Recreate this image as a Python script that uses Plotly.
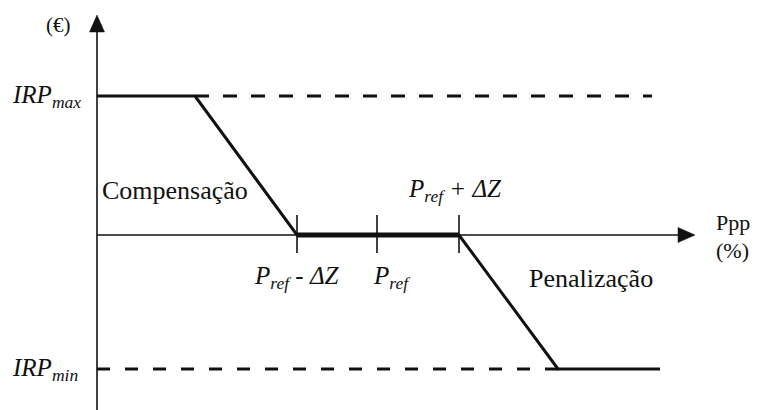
import plotly.graph_objects as go

# ---- data (conceptual units on the chart's own axes) ----
knee_comp = 98          # end of IRPmax plateau
p_ref_minus = 200       # Pref - ΔZ
p_ref = 280             # Pref
p_ref_plus = 362        # Pref + ΔZ
knee_pen = 461          # start of IRPmin plateau
x_end = 563             # end of IRPmin plateau
x_dash_end = 555        # end of dashed IRPmax reference
irp_max = 139
irp_min = -134

curve_x = [0, knee_comp, p_ref_minus, p_ref_plus, knee_pen, x_end]
curve_y = [irp_max, irp_max, 0, 0, irp_min, irp_min]
tick_x = [p_ref_minus, p_ref, p_ref_plus]
tick_labels = ["<i>P</i><sub><i>ref</i></sub><i> - ΔZ</i>", "<i>P</i><sub><i>ref</i></sub>"]

# ---- styling / layout helpers ----
# page body has an 8px margin, so the figure is 752x402 and ranges account for it
X_MIN, X_MAX = -89, 663
Y_MIN, Y_MAX = -175, 227
X_AXIS_TIP = 598
Y_AXIS_TIP = 220
HEAD_LEN = 17
HEAD_HALF = 7.5
TICK_UP, TICK_DN = 20, -18
SERIF = "Liberation Serif, Times New Roman, serif"
INK = "#111111"

fig = go.Figure()

# axes lines
fig.add_trace(go.Scatter(x=[0, 0], y=[Y_MIN, Y_AXIS_TIP - HEAD_LEN + 2], mode="lines",
                         line=dict(color=INK, width=1.6), hoverinfo="skip"))
fig.add_trace(go.Scatter(x=[0, X_AXIS_TIP - HEAD_LEN + 2], y=[0, 0], mode="lines",
                         line=dict(color=INK, width=1.6), hoverinfo="skip"))
# arrowheads
fig.add_trace(go.Scatter(x=[-HEAD_HALF, HEAD_HALF, 0, -HEAD_HALF],
                         y=[Y_AXIS_TIP - HEAD_LEN, Y_AXIS_TIP - HEAD_LEN, Y_AXIS_TIP, Y_AXIS_TIP - HEAD_LEN],
                         mode="lines", fill="toself", fillcolor=INK, line=dict(color=INK, width=0.5),
                         hoverinfo="skip"))
fig.add_trace(go.Scatter(x=[X_AXIS_TIP - HEAD_LEN, X_AXIS_TIP - HEAD_LEN, X_AXIS_TIP, X_AXIS_TIP - HEAD_LEN],
                         y=[-HEAD_HALF, HEAD_HALF, 0, -HEAD_HALF],
                         mode="lines", fill="toself", fillcolor=INK, line=dict(color=INK, width=0.5),
                         hoverinfo="skip"))
# ticks on x axis
tx, ty = [], []
for t in tick_x:
    tx += [t, t, None]
    ty += [TICK_DN, TICK_UP, None]
fig.add_trace(go.Scatter(x=tx, y=ty, mode="lines", line=dict(color=INK, width=1.6), hoverinfo="skip"))

# dashed reference lines
fig.add_trace(go.Scatter(x=[knee_comp, x_dash_end], y=[irp_max, irp_max], mode="lines",
                         line=dict(color=INK, width=3, dash="14px,14px"), hoverinfo="skip"))
fig.add_trace(go.Scatter(x=[0, knee_pen], y=[irp_min, irp_min], mode="lines",
                         line=dict(color=INK, width=3, dash="13px,15px"), hoverinfo="skip"))
# main curve
fig.add_trace(go.Scatter(x=curve_x, y=curve_y, mode="lines",
                         line=dict(color=INK, width=3), hoverinfo="skip"))
# thick dead band
fig.add_trace(go.Scatter(x=[p_ref_minus, p_ref_plus], y=[0, 0], mode="lines",
                         line=dict(color=INK, width=5), hoverinfo="skip"))

def ann(text, x, y, xanchor="center", size=21, yshift=0):
    fig.add_annotation(text=text, x=x, y=y, xref="x", yref="y", showarrow=False,
                       xanchor=xanchor, yanchor="middle", yshift=yshift,
                       font=dict(family=SERIF, size=size, color=INK))

ann("(€)", -39, 210, size=21)
ann("<i>IRP</i><sub><i>max</i></sub>", -14, irp_max, xanchor="right", size=25)
ann("<i>IRP</i><sub><i>min</i></sub>", -17, irp_min, xanchor="right", size=25)
ann("Compensação", 3, 45, xanchor="left", size=26)
ann("<i>P</i><sub><i>ref</i></sub><i> + ΔZ</i>", p_ref_plus - 4, 45, size=25)
ann(tick_labels[0], p_ref_minus, -42, size=25)
ann(tick_labels[1], p_ref + 14, -42, size=25)
ann("Penalização", 430, -43, xanchor="left", size=26)
ann("Ppp", 617, 13, xanchor="left", size=22)
ann("(%)", 617, -15, xanchor="left", size=22)

fig.update_layout(
    width=752, height=402,
    margin=dict(l=0, r=0, t=0, b=0),
    paper_bgcolor="white", plot_bgcolor="white",
    showlegend=False,
    xaxis=dict(range=[X_MIN, X_MAX], visible=False, fixedrange=True),
    yaxis=dict(range=[Y_MIN, Y_MAX], visible=False, fixedrange=True),
)
fig.write_html("out.html")
